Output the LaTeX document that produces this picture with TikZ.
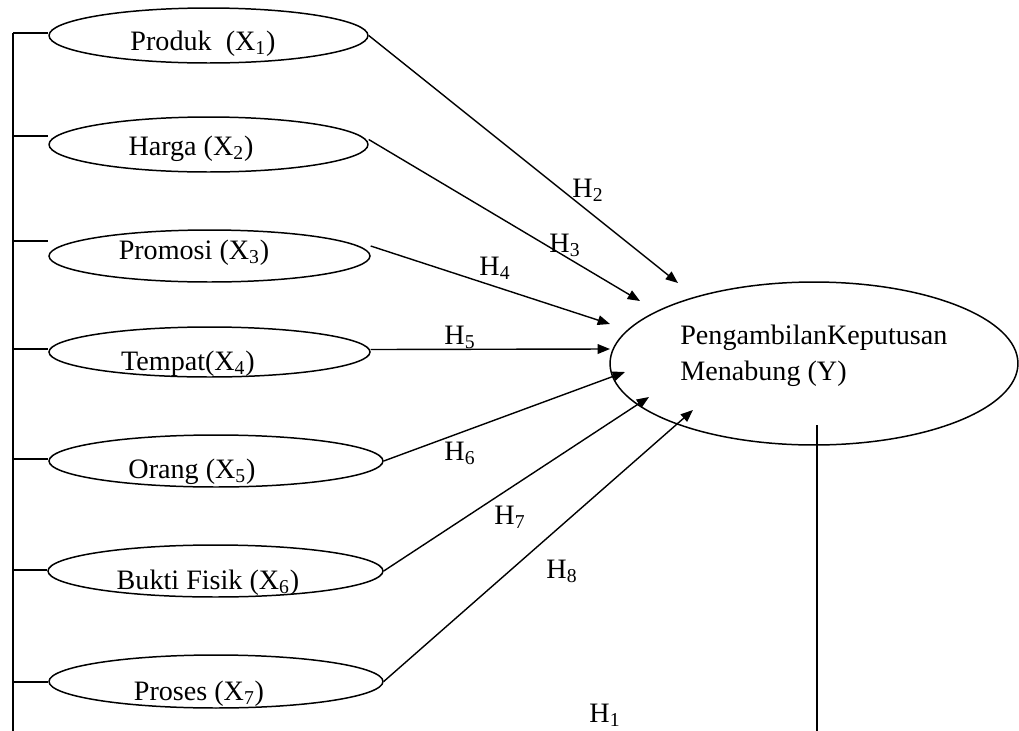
\documentclass[tikz,border=0pt]{standalone}
\usepackage{fontspec}
\setmainfont{Liberation Serif}
\usetikzlibrary{arrows.meta, shapes.geometric}

\begin{document}
\begin{tikzpicture}[x=0.02cm, y=-0.02cm,
  var/.style={ellipse, draw, line width=0.85pt, inner sep=0pt},
  lab/.style={anchor=base, inner sep=0pt, font=\fontsize{16}{19}\selectfont},
  arr/.style={-{Triangle[length=7pt, width=5.5pt]}, line width=0.8pt},
  ln/.style={line width=0.85pt}
]
\useasboundingbox (0,0) rectangle (1019,731);
% ── Independent variables ──
\node[var, minimum width=6.38cm, minimum height=1.10cm] (e1) at (208.5,35.5)  {};
\node[var, minimum width=6.38cm, minimum height=1.10cm] (e2) at (208.5,144.5) {};
\node[var, minimum width=6.42cm, minimum height=1.04cm] (e3) at (209.5,256)   {};
\node[var, minimum width=6.42cm, minimum height=1.00cm] (e4) at (209.5,352)   {};
\node[var, minimum width=6.68cm, minimum height=1.04cm] (e5) at (216,461)     {};
\node[var, minimum width=6.70cm, minimum height=1.04cm] (e6) at (215.5,571)   {};
\node[var, minimum width=6.68cm, minimum height=1.06cm] (e7) at (216,681.5)   {};
\node[lab] (x1) at (203,50)  {Produk\ \ (X\textsubscript{1})};
\node[lab] (x2) at (191,155) {Harga (X\textsubscript{2})};
\node[lab] (x3) at (194,259) {Promosi (X\textsubscript{3})};
\node[lab] (x4) at (188,370) {Tempat(X\textsubscript{4})};
\node[lab] (x5) at (192,478) {Orang (X\textsubscript{5})};
\node[lab] (x6) at (208,589) {Bukti Fisik (X\textsubscript{6})};
\node[lab] (x7) at (199,700) {Proses (X\textsubscript{7})};
% ── Dependent variable ──
\node[var, minimum width=8.16cm, minimum height=3.26cm] (ey) at (814,363.5) {};
\node[lab, anchor=base west, align=left] (yt) at (680,380)
  {PengambilanKeputusan\\[1pt]Menabung (Y)};
% ── Arrow ends ──
\coordinate (t2) at (678,283);
\coordinate (t3) at (640,301);
\coordinate (t4) at (610,324);
\coordinate (t5) at (610,349);
\coordinate (t6) at (625,372);
\coordinate (t7) at (649,397);
\coordinate (t8) at (693,410);
\draw[arr] (e1.east) -- (t2);
\draw[arr] ([yshift=0.1cm]e2.east) -- (t3);
\draw[arr] ([yshift=0.2cm]e3.east) -- (t4);
\draw[arr] ([yshift=0.05cm]e4.east) -- (t5);
\draw[arr] (e5.east) -- (t6);
\draw[arr] (e6.east) -- (t7);
\draw[arr] (e7.east) -- (t8);
% ── Hypothesis labels ──
\node[lab] (h2) at (588,197) {H\textsubscript{2}};
\node[lab] (h3) at (565,252) {H\textsubscript{3}};
\node[lab] (h4) at (495,275) {H\textsubscript{4}};
\node[lab] (h5) at (460,344) {H\textsubscript{5}};
\node[lab] (h6) at (460,460) {H\textsubscript{6}};
\node[lab] (h7) at (510,524) {H\textsubscript{7}};
\node[lab] (h8) at (562,578) {H\textsubscript{8}};
\node[lab] (h1) at (605,722) {H\textsubscript{1}};
% ── Joint path (H1) ──
\coordinate (sp) at (13,33);
\coordinate (se) at (13,731);
\coordinate (yb) at (817,425);
\coordinate (ye) at (817,731);
\draw[ln] (sp) -- (se);
\foreach \y/\e in {33/e1,136/e2,241/e3,349/e4,459/e5,570/e6,682/e7}
  \draw[ln] (13,\y) -- (\e.west |- 0,\y);
\draw[ln] (yb) -- (ye);
\end{tikzpicture}
\end{document}
